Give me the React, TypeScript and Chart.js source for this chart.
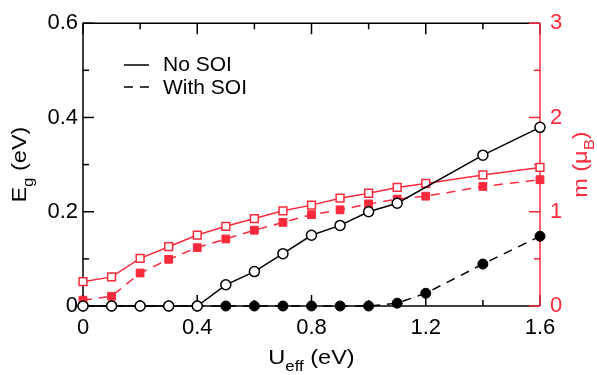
import React, { useEffect, useRef } from "react";
import { Chart, registerables } from "chart.js";

Chart.register(...registerables);

// ---- data ----
const uEgNoSOI = [0, 0.1, 0.2, 0.3, 0.4, 0.5, 0.6, 0.7, 0.8, 0.9, 1.0, 1.1, 1.4, 1.6];
const egNoSOI = [0, 0, 0, 0, 0, 0.045, 0.073, 0.111, 0.15, 0.171, 0.2, 0.218, 0.32, 0.379];
const uAll = [0, 0.1, 0.2, 0.3, 0.4, 0.5, 0.6, 0.7, 0.8, 0.9, 1.0, 1.1, 1.2, 1.4, 1.6];
const egWithSOI = [0, 0, 0, 0, 0, 0, 0, 0, 0, 0, 0, 0.006, 0.027, 0.089, 0.148];
const mNoSOI = [0.258, 0.309, 0.505, 0.629, 0.753, 0.845, 0.928, 1.01, 1.07, 1.144, 1.196, 1.258, 1.3, 1.39, 1.47];
const mWithSOI = [0.062, 0.103, 0.35, 0.495, 0.619, 0.711, 0.804, 0.887, 0.969, 1.02, 1.083, 1.134, 1.165, 1.268, 1.34];

const xMajorTicks = [0, 0.4, 0.8, 1.2, 1.6];
const xMinorTicks = [0.2, 0.6, 1.0, 1.4];
const yMajorTicks = [0, 0.2, 0.4, 0.6];
const yMinorTicks = [0.1, 0.3, 0.5];
const y2MajorTicks = [0, 1, 2, 3];
const y2MinorTicks = [0.5, 1.5, 2.5];

const legendLabels = ["No SOI", "With SOI"];

const RED = "#fa2a3c";
const FONT = "'Liberation Sans', Arial, Helvetica, sans-serif";

const toPts = (xs: number[], ys: number[]) => xs.map((x, i) => ({ x, y: ys[i] }));

function drawSubText(
  ctx: CanvasRenderingContext2D,
  parts: { t: string; sub?: boolean }[],
  cx: number,
  cy: number,
  rot: number,
  color: string
) {
  ctx.save();
  ctx.translate(cx, cy);
  ctx.rotate(rot);
  ctx.scale(1.12, 1);
  ctx.fillStyle = color;
  ctx.textBaseline = "alphabetic";
  ctx.textAlign = "left";
  const big = `21px ${FONT}`;
  const small = `15px ${FONT}`;
  let total = 0;
  const widths = parts.map((p) => {
    ctx.font = p.sub ? small : big;
    const w = ctx.measureText(p.t).width;
    total += w;
    return w;
  });
  let x = -total / 2;
  parts.forEach((p, i) => {
    ctx.font = p.sub ? small : big;
    ctx.fillText(p.t, x, p.sub ? 7 : 0);
    x += widths[i];
  });
  ctx.restore();
}

const framePlugin = {
  id: "frame",
  beforeDatasetsDraw(chart: any) {
    const { ctx, chartArea: a, scales } = chart;
    const xs = scales.x, y = scales.y, y2 = scales.y2;
    ctx.save();
    ctx.lineWidth = 1.5;
    ctx.strokeStyle = "#000";
    ctx.beginPath();
    ctx.moveTo(a.right, a.top);
    ctx.lineTo(a.left, a.top);
    ctx.lineTo(a.left, a.bottom);
    ctx.lineTo(a.right, a.bottom);
    ctx.stroke();
    const tick = (vals: number[], len: number) => {
      vals.forEach((v) => {
        const px = xs.getPixelForValue(v);
        ctx.beginPath();
        ctx.moveTo(px, a.bottom);
        ctx.lineTo(px, a.bottom - len);
        ctx.moveTo(px, a.top);
        ctx.lineTo(px, a.top + len);
        ctx.stroke();
      });
    };
    tick(xMajorTicks, 11);
    tick(xMinorTicks, 6);
    const ytick = (vals: number[], len: number) => {
      vals.forEach((v) => {
        const py = y.getPixelForValue(v);
        ctx.beginPath();
        ctx.moveTo(a.left, py);
        ctx.lineTo(a.left + len, py);
        ctx.stroke();
      });
    };
    ytick(yMajorTicks, 11);
    ytick(yMinorTicks, 6);
    ctx.strokeStyle = RED;
    ctx.beginPath();
    ctx.moveTo(a.right, a.top);
    ctx.lineTo(a.right, a.bottom);
    ctx.stroke();
    const y2tick = (vals: number[], len: number) => {
      vals.forEach((v) => {
        const py = y2.getPixelForValue(v);
        ctx.beginPath();
        ctx.moveTo(a.right, py);
        ctx.lineTo(a.right - len, py);
        ctx.stroke();
      });
    };
    y2tick(y2MajorTicks, 11);
    y2tick(y2MinorTicks, 6);
    ctx.restore();
  },
  afterDraw(chart: any) {
    const { ctx, chartArea: a } = chart;
    const midY = (a.top + a.bottom) / 2;
    const midX = (a.left + a.right) / 2;
    drawSubText(ctx, [{ t: "E" }, { t: "g", sub: true }, { t: " (eV)" }], 26, midY, -Math.PI / 2, "#000");
    drawSubText(ctx, [{ t: "U" }, { t: "eff", sub: true }, { t: " (eV)" }], midX, 364, 0, "#000");
    drawSubText(ctx, [{ t: "m (μ" }, { t: "B", sub: true }, { t: ")" }], 587, midY, -Math.PI / 2, RED);
    // legend
    ctx.save();
    ctx.strokeStyle = "#000";
    ctx.lineWidth = 1.5;
    ctx.beginPath();
    ctx.moveTo(124, 65);
    ctx.lineTo(149, 65);
    ctx.stroke();
    ctx.setLineDash([9, 7]);
    ctx.beginPath();
    ctx.moveTo(124, 87);
    ctx.lineTo(149, 87);
    ctx.stroke();
    ctx.setLineDash([]);
    ctx.fillStyle = "#000";
    ctx.font = `21px ${FONT}`;
    ctx.textBaseline = "middle";
    ctx.textAlign = "left";
    ctx.fillText(legendLabels[0], 163, 65);
    ctx.fillText(legendLabels[1], 163, 88);
    ctx.restore();
  },
};

export default function App() {
  const ref = useRef<HTMLCanvasElement | null>(null);
  useEffect(() => {
    if (!ref.current) return;
    const fmt = (v: any) => String(Math.round(Number(v) * 10) / 10);
    const chart = new Chart(ref.current, {
      type: "line",
      data: {
        datasets: [
          {
            label: "Eg no SOI",
            data: toPts(uEgNoSOI, egNoSOI),
            yAxisID: "y",
            borderColor: "#000",
            borderWidth: 1.5,
            pointStyle: "circle",
            pointRadius: 5,
            pointBorderWidth: 1.5,
            pointBackgroundColor: "#fff",
            pointBorderColor: "#000",
            clip: false,
          },
          {
            label: "m no SOI",
            data: toPts(uAll, mNoSOI),
            yAxisID: "y2",
            borderColor: RED,
            borderWidth: 1.5,
            pointStyle: "rect",
            pointRadius: 5.5,
            pointBorderWidth: 1.5,
            pointBackgroundColor: "#fff",
            pointBorderColor: RED,
            clip: false,
          },
          {
            label: "m with SOI",
            data: toPts(uAll, mWithSOI),
            yAxisID: "y2",
            borderColor: RED,
            borderWidth: 1.5,
            borderDash: [9, 7],
            pointStyle: "rect",
            pointRadius: 5.5,
            pointBorderWidth: 1,
            pointBackgroundColor: RED,
            pointBorderColor: RED,
            clip: false,
          },
          {
            label: "Eg with SOI",
            data: toPts(uAll, egWithSOI),
            yAxisID: "y",
            borderColor: "#000",
            borderWidth: 1.5,
            borderDash: [9, 7],
            pointStyle: "circle",
            pointRadius: 5,
            pointBorderWidth: 1,
            pointBackgroundColor: "#000",
            pointBorderColor: "#000",
            clip: false,
          },
        ],
      },
      options: {
        animation: false,
        responsive: false,
        events: [],
        layout: { padding: { top: 15, left: 0, right: 0, bottom: 0 } },
        plugins: { legend: { display: false }, tooltip: { enabled: false } },
        scales: {
          x: {
            type: "linear",
            min: 0,
            max: 1.6,
            grid: { display: false, drawTicks: false },
            border: { display: false },
            afterBuildTicks: (s: any) => {
              s.ticks = xMajorTicks.map((v) => ({ value: v }));
            },
            afterFit: (s: any) => {
              s.height = 69;
            },
            ticks: {
              color: "#000",
              padding: 9,
              maxRotation: 0,
              autoSkip: false,
              font: { family: FONT, size: 22 },
              callback: fmt,
            },
          },
          y: {
            type: "linear",
            position: "left",
            min: 0,
            max: 0.6,
            grid: { display: false, drawTicks: false },
            border: { display: false },
            afterBuildTicks: (s: any) => {
              s.ticks = yMajorTicks.map((v) => ({ value: v }));
            },
            afterFit: (s: any) => {
              s.width = 83;
            },
            ticks: {
              color: "#000",
              padding: 5,
              font: { family: FONT, size: 22 },
              callback: fmt,
            },
          },
          y2: {
            type: "linear",
            position: "right",
            min: 0,
            max: 3,
            grid: { display: false, drawTicks: false },
            border: { display: false },
            afterBuildTicks: (s: any) => {
              s.ticks = y2MajorTicks.map((v) => ({ value: v }));
            },
            afterFit: (s: any) => {
              s.width = 57;
            },
            ticks: {
              color: RED,
              padding: 10,
              font: { family: FONT, size: 22 },
              callback: fmt,
            },
          },
        },
      },
      plugins: [framePlugin],
    });
    return () => chart.destroy();
  }, []);
  return (
    <div style={{ position: "fixed", left: 0, top: 0, width: 597, height: 375, background: "#fff" }}>
      <canvas ref={ref} width={597} height={375} style={{ display: "block" }} />
    </div>
  );
}
